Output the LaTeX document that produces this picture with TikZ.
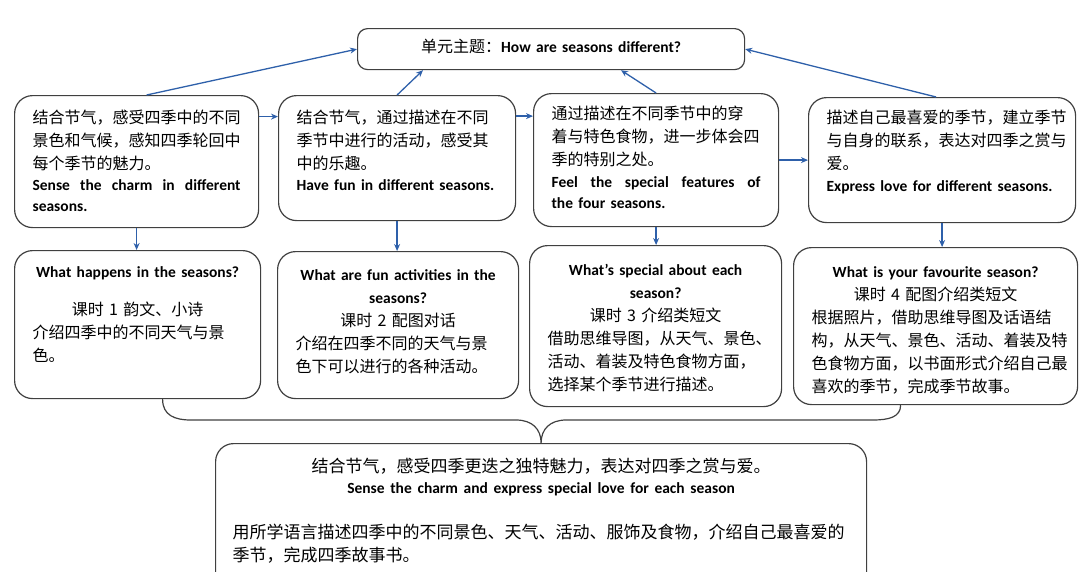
\documentclass[tikz,border=0pt]{standalone}
\usepackage{fontspec}
\setmainfont{Carlito}
\newfontfamily\cjk{Noto Sans CJK SC}
\usetikzlibrary{arrows.meta,calc}
\definecolor{boxgray}{RGB}{64,64,64}
\definecolor{linkblue}{RGB}{46,96,170}
\newcommand\engl[1]{{\rmfamily\bfseries\fontsize{15.5}{23}\selectfont #1}}
\newcommand\midline[1]{\hfill#1\hfill\hbox{}}

\begin{document}
\begin{tikzpicture}
[x=1pt,y=-1pt,%
  box/.style={draw=boxgray,line width=1.2pt,rounded corners=18pt,anchor=north west,%
    inner xsep=18pt,inner ysep=0pt,align=left,font=\cjk\fontsize{16}{23}\selectfont},%
  link/.style={draw=linkblue,line width=1.3pt,-{Stealth[length=7pt,width=6pt]}},%
  curly/.style={draw=boxgray,line width=1.2pt}]
\useasboundingbox (0,0) rectangle (1080,571);
\clip (0,0) rectangle (1080,571);

% theme
\node[box,rounded corners=10pt,inner xsep=10pt,align=center,text width=367pt,
  text height=24pt,text depth=17pt] (top) at (357,28)
  {单元主题：\engl{How are seasons different?}};

% goals
\node[box,text width=208pt,text height=28pt,text depth=104pt] (g1) at (14,95)
  {结合节气，感受四季中的不同\\景色和气候，感知四季轮回中\\每个季节的魅力。\\[-2pt]
   \engl{Sense\hfill the\hfill charm\hfill in\hfill different}\\[-2pt]\engl{seasons.}};
\node[box,text width=201pt,text height=28pt,text depth=97pt] (g2) at (278,95)
  {结合节气，通过描述在不同\\季节中进行的活动，感受其\\中的乐趣。\\[-2pt]
   \engl{Have fun in different seasons.}};
\node[box,text width=209pt,text height=26pt,text depth=107pt] (g3) at (533,93)
  {通过描述在不同季节中的穿\\着与特色食物，进一步体会四\\季的特别之处。\\[-1pt]
   \engl{Feel\hfill the\hfill special\hfill features\hfill of}\\[-2pt]\engl{the four seasons.}};
\node[box,text width=231pt,text height=26pt,text depth=99pt] (g4) at (808,97)
  {描述自己最喜爱的季节，建立季节\\与自身的联系，表达对四季之赏与\\爱。\\[-1pt]
   \engl{Express love for different seasons.}};

% lessons
\node[box,text width=210pt,text height=27pt,text depth=121pt] (l1) at (14,250)
  {\midline{\engl{What happens in the seasons?}}\\[15pt]\midline{课时 1 韵文、小诗}\\
   介绍四季中的不同天气与景\\色。};
\node[box,text width=205pt,text height=29pt,text depth=118pt] (l2) at (277,251)
  {\midline{\engl{What are fun activities in the}}\\\midline{\engl{seasons?}}\\
   \midline{课时 2 配图对话}\\介绍在四季不同的天气与景\\色下可以进行的各种活动。};
\node[box,text width=216pt,text height=30pt,text depth=131pt] (l3) at (529,245)
  {\midline{\engl{What’s special about each}}\\\midline{\engl{season?}}\\
   \midline{课时 3 介绍类短文}\\借助思维导图，从天气、景色、\\活动、着装及特色食物方面，\\
   选择某个季节进行描述。};
\node[box,text width=248pt,text height=30pt,text depth=127pt] (l4) at (793,247)
  {\midline{\engl{What is your favourite season?}}\\\midline{课时 4 配图介绍类短文}\\
   根据照片，借助思维导图及话语结\\构，从天气、景色、活动、着装及特\\
   色食物方面，以书面形式介绍自己最\\喜欢的季节，完成季节故事。};

% summary
\node[box,inner xsep=17pt,text width=617pt,text height=29pt,text depth=118pt,
  font=\cjk\fontsize{17}{23}\selectfont] (sum) at (215,443)
  {\midline{结合节气，感受四季更迭之独特魅力，表达对四季之赏与爱。}\\[-2pt]
   \midline{\engl{Sense the charm and express special love for each season}}\\[22pt]
   用所学语言描述四季中的不同景色、天气、活动、服饰及食物，介绍自己最喜爱的\\季节，完成四季故事书。};

% arrows
\draw[link] ([xshift=10pt]g1.north) -- (top.west);
\draw[link] (g2.north) -- ($(top.south west)!0.17!(top.south east)$);
\draw[link] (g3.north) -- ($(top.south west)!0.68!(top.south east)$);
\draw[link] ([xshift=-6pt]g4.north) -- (top.east);
\coordinate (a12) at ([yshift=45pt]g1.east);
\coordinate (a23) at ([yshift=42pt]g2.east);
\draw[link] (a12) -- (a12 -| g2.west);
\draw[link] (a23) -- (a23 -| g3.west);
\draw[link] (g3.east) -- (g3.east -| g4.west);
\foreach \i in {1,...,4}
  \draw[link] (g\i.south) -- (g\i.south |- l\i.north);

% brace
\coordinate (bl) at ([xshift=25pt]l1.south);
\coordinate (br) at ([xshift=-35pt]l4.south);
\coordinate (tip) at (sum.north);
\coordinate (bend) at ($(tip)+(0,-23)$);
\coordinate (c1) at ($(bl |- bend)+(28,0)$);
\coordinate (c2) at ($(bend)+(-25,0)$);
\coordinate (c3) at ($(bend)+(25,0)$);
\coordinate (c4) at ($(br |- bend)+(-28,0)$);
\draw[curly] (bl) .. controls +(0,16) and +(-16,0) .. (c1) -- (c2)
  .. controls +(16,0) and +(0,-14) .. (tip)
  .. controls +(0,-14) and +(-16,0) .. (c3) -- (c4)
  .. controls +(16,0) and +(0,12) .. (br);
\end{tikzpicture}
\end{document}
